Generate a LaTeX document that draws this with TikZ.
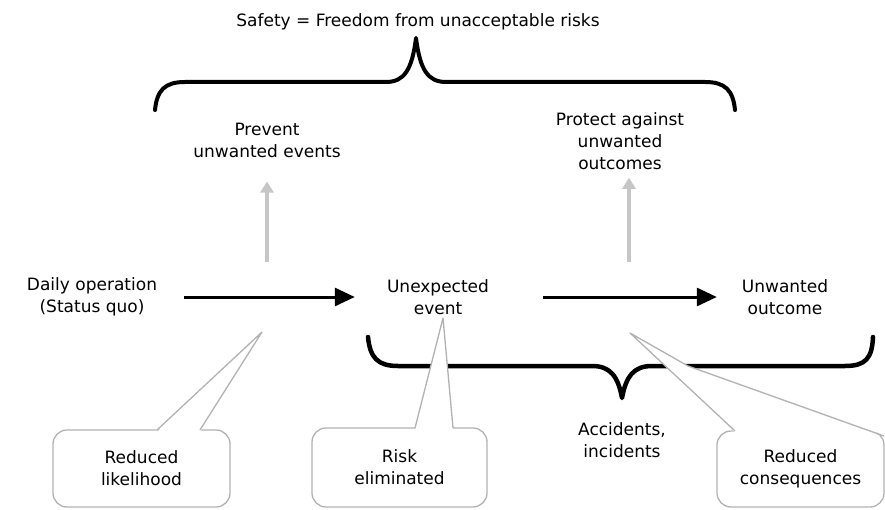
\documentclass[tikz,border=0pt]{standalone}
\usepackage{fontspec}
\setmainfont{DejaVu Sans}
\usetikzlibrary{arrows.meta}
\begin{document}
\begin{tikzpicture}[x=1pt,y=-1pt,
  txt/.style={align=center, inner sep=0pt, font=\fontsize{17}{22}\selectfont},
  brace/.style={line width=4pt, line cap=round, line join=round},
  barrow/.style={line width=3pt, -{Triangle[length=20pt,width=18pt]}},
  garrow/.style={draw=gray!45, line width=4.5pt, -{Triangle[length=11pt,width=13pt]}},
  cbox/.style={draw=gray!60, line width=1.3pt, rounded corners=14pt, align=center,
    inner sep=0pt, font=\fontsize{17}{22}\selectfont},
  wedge/.style={draw=gray!60, line width=1.3pt, line join=round},
]
\useasboundingbox (0,0) rectangle (885,510);

% braces
\draw[brace] (155,110) .. controls (157,90) and (165,82) .. (185,82) -- (386,82)
  .. controls (404,82) and (412,70) .. (416,38)
  .. controls (420,70) and (428,82) .. (446,82) -- (705,82)
  .. controls (725,82) and (733,90) .. (735,110);
\draw[brace, line width=4.5pt] (368,337) .. controls (370,358) and (378,366) .. (398,366) -- (592,366)
  .. controls (610,366) and (618,376) .. (622,398)
  .. controls (626,376) and (634,366) .. (652,366) -- (845,366)
  .. controls (866,366) and (872,358) .. (873,337);

% callout boxes
\node[cbox, minimum width=177pt, minimum height=77pt] (rl) at (141.5,468.5) {Reduced\\likelihood};
\node[cbox, minimum width=175pt, minimum height=79pt] (re) at (399.5,467.5) {Risk\\eliminated};
\node[cbox, minimum width=167pt, minimum height=76pt] (rc) at (800.5,469) {Reduced\\consequences};

% callout pointers
\coordinate (t1) at (262,332);
\coordinate (t2) at (443,318);
\coordinate (t3) at (630,333);
\fill[white] (157,432) -- (t1) -- (200,432) -- cycle;
\draw[wedge] (157,430) -- (t1) -- (200,430);
\fill[white] (415,430) -- (t2) -- (453,430) -- cycle;
\draw[wedge] (415,428) -- (t2) -- (453,428);
\fill[white] (735,432.5) -- (t3) -- (688,366) -- (884,432.5) -- cycle;
\draw[wedge] (735,431) -- (t3) -- (688,366) -- (884,436);

% texts
\node[txt] (title) at (418,22) {Safety = Freedom from unacceptable risks};
\node[txt] (prev) at (267,140) {Prevent\\unwanted events};
\node[txt] (prot) at (620,141) {Protect against\\unwanted\\outcomes};
\node[txt, minimum width=184pt] (daily) at (92,297) {Daily operation\\(Status quo)};
\node[txt, minimum width=166pt] (ue) at (438,297) {Unexpected\\event};
\node[txt, minimum width=136pt] (uo) at (785,297) {Unwanted\\outcome};
\node[txt] (acc) at (622,440) {Accidents,\\incidents};

% main arrows
\draw[barrow] (daily.east) -- (ue.west);
\draw[barrow] ([xshift=22pt]ue.east) -- (uo.west);

% gray arrows
\coordinate (bar1) at (267,262);
\coordinate (bar2) at (629,262);
\draw[garrow, shorten >=24pt] (bar1) -- (bar1 |- prev.south);
\draw[garrow, shorten >=8pt] (bar2) -- (bar2 |- prot.south);
\end{tikzpicture}
\end{document}
